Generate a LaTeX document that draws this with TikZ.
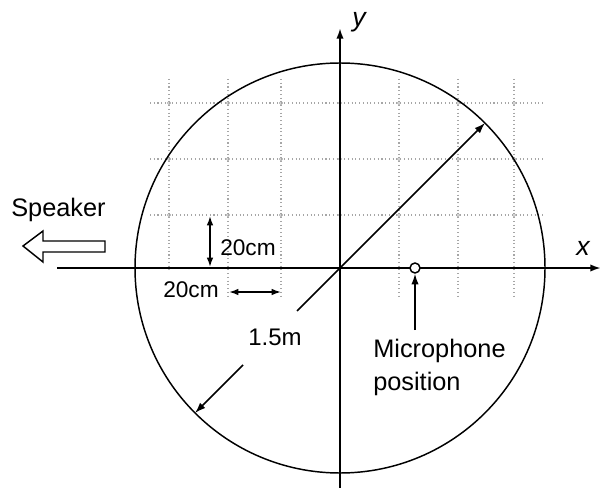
\documentclass[tikz,border=0pt]{standalone}
\usepackage{fontspec}
\setmainfont{Liberation Sans}
\usetikzlibrary{arrows.meta}

\begin{document}
\begin{tikzpicture}[x=0.75pt,y=-0.75pt,
        gridline/.style={black!35, dotted, line width=0.8pt},
        axis/.style={black, line width=1.5pt},
        tip/.style={-{Latex[length=8pt,width=5.5pt]}},
        dimarrow/.style={black, line width=1.3pt, {Latex[length=7pt,width=5pt]}-{Latex[length=7pt,width=5pt]}},
        labeltext/.style={font=\fontsize{19}{22}\selectfont, inner sep=0pt},
        smalltext/.style={font=\fontsize{17}{20}\selectfont, inner sep=0pt}]
    \useasboundingbox (0,0) rectangle (602,488);
    % The dotted 20cm grid.
        \foreach \gx in {228,281,399,458,514}
            \draw[gridline] (\gx,79) -- (\gx,298);
        \draw[gridline] (169,79) -- (169,268);
        \foreach \gy in {103,159,215}
            \draw[gridline] (150,\gy) -- (545,\gy);
        \foreach \gx in {169,228,281,340,399,458,514}
            \foreach \gy in {103,159,215,268}
                \draw[black!35, line width=0.5pt] (\gx,\gy) circle [radius=1.2pt];
    % Axes and the 1.5m circle.
        \coordinate (O) at (340,268);
        \coordinate (xstart) at (57,268);
        \coordinate (xend) at (601,268);
        \coordinate (ystart) at (340,488);
        \coordinate (yend) at (340,28);
        \draw[axis, tip] (xstart) -- (xend);
        \draw[axis, tip] (ystart) -- (yend);
        \draw[black, line width=1.1pt] (O) circle [radius=153.75pt];
    % Below nodes are the labels.
        \node[font=\fontsize{20}{22}\selectfont\itshape, inner sep=0pt] (ylab) at (359,22) {y};
        \node[font=\fontsize{20}{22}\selectfont\itshape, inner sep=0pt] (xlab) at (583,248) {x};
        \node[labeltext, anchor=base west] (speaker) at (11,216) {Speaker};
        \node[labeltext, anchor=base west] (micname) at (373,357) {Microphone};
        \node[labeltext, anchor=base west] (micpos) at (373,390) {position};
        \node[font=\fontsize{18}{20}\selectfont, inner sep=0pt] (radlab) at (275,337) {1.5m};
        \node[smalltext, anchor=base west] (vdimlab) at (220,255) {20cm};
        \node[smalltext, anchor=base west] (hdimlab) at (163,297) {20cm};
    % Speaker arrow.
        \draw[black, line width=1.1pt] (105,241) -- (43,241) -- (43,231) -- (23,246)
            -- (43,262) -- (43,252) -- (105,252) -- cycle;
    % Radius arrow, broken for its label.
        \coordinate (radtip) at (485,123);
        \coordinate (radmid) at (297,311);
        \coordinate (radrest) at (243,365);
        \coordinate (radend) at (195,413);
        \draw[black, line width=1.1pt, tip] (O) -- (radtip);
        \draw[black, line width=1.1pt] (O) -- (radmid);
        \draw[black, line width=1.1pt, tip] (radrest) -- (radend);
    % Dimension arrows.
        \coordinate (vtop) at (210,216);
        \coordinate (vbot) at (210,267);
        \coordinate (hleft) at (229,292);
        \coordinate (hright) at (281,292);
        \draw[dimarrow] (vtop) -- (vbot);
        \draw[dimarrow] (hleft) -- (hright);
    % Microphone.
        \node[draw, circle, fill=white, line width=1.1pt, minimum size=7.5pt, inner sep=0pt] (mic) at (415,268) {};
        \coordinate (micfoot) at (415,330);
        \draw[black, line width=1.1pt, tip] (micfoot) -- (mic.south);
\end{tikzpicture}
\end{document}
